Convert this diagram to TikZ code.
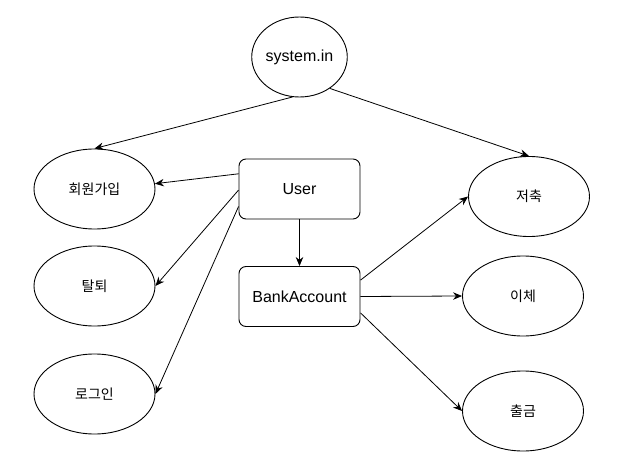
\documentclass[tikz,border=0pt]{standalone}
\usepackage{fontspec}
\setmainfont{Liberation Sans}
\newfontfamily\kr{Noto Sans CJK KR}
\usetikzlibrary{shapes.geometric,arrows.meta}
\begin{document}
\begin{tikzpicture}[x=1pt,y=-1pt,
  oval/.style={draw, ellipse, minimum width=121pt, minimum height=80pt, inner sep=0pt, line width=0.9pt, font=\kr\fontsize{14}{16}\selectfont},
  box/.style={draw, rounded corners=7pt, minimum width=121pt, minimum height=60pt, inner sep=0pt, line width=0.9pt, font=\fontsize{16}{18}\selectfont},
  conn/.style={line width=0.8pt, -{Stealth[length=9pt,width=7.5pt]}}]
\fill[white] (0,0) rectangle (637,457);
\useasboundingbox (0,0) rectangle (637,457);
\node[draw, ellipse, minimum width=87pt, minimum height=80pt, inner sep=0pt, line width=0.9pt, font=\fontsize{16}{18}\selectfont] (sys) at (299.5,57) {system.in};
\node[oval] (hoewon) at (94.5,189) {회원가입};
\node[oval] (taltoe) at (94.5,286) {탈퇴};
\node[oval] (login) at (94.5,394) {로그인};
\node[box] (user) at (299.5,189) {User};
\node[box] (bank) at (299.5,296.5) {BankAccount};
\node[oval] (jeochuk) at (529,196.5) {저축};
\node[oval] (ichae) at (523,296) {이체};
\node[oval] (chulgeum) at (523,411) {출금};
\draw[conn] (sys.260) -- (hoewon.north);
\draw[conn] (sys.314) -- (jeochuk.north);
\draw[conn] (user.166) -- (hoewon.5);
\draw[conn] (user.181) -- (taltoe.east);
\draw[conn] (user.196) -- (login.east);
\draw[conn] (user.south) -- (bank.north);
\draw[conn] (bank.15) -- (jeochuk.west);
\draw[conn] (bank.east) -- (ichae.west);
\draw[conn] (bank.345) -- (chulgeum.west);
\end{tikzpicture}
\end{document}
